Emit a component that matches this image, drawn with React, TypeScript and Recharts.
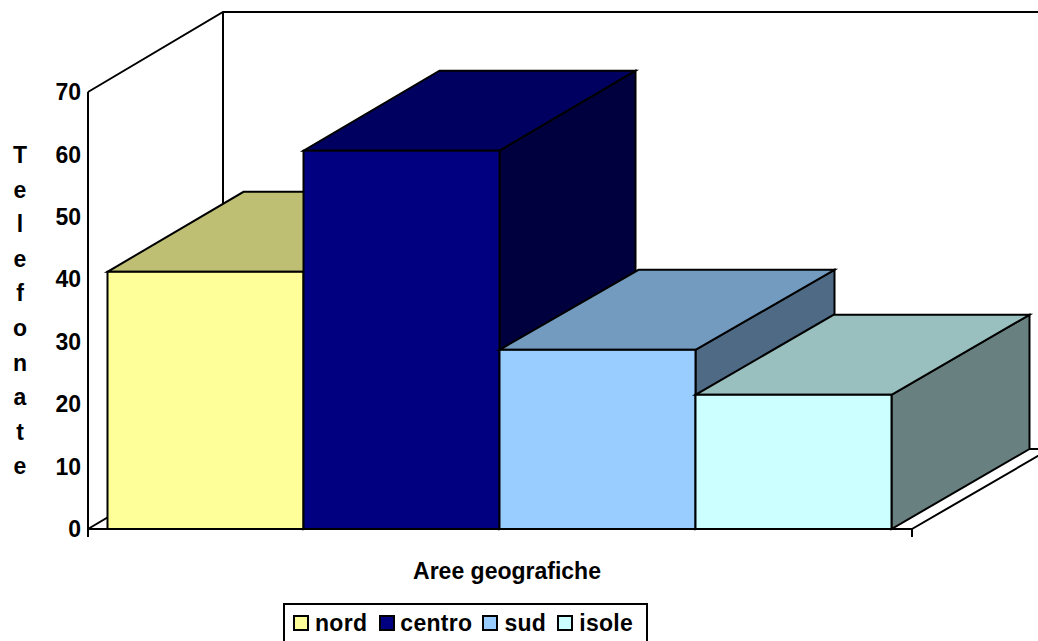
import { BarChart, Bar, XAxis, YAxis, Legend, usePlotArea } from "recharts"

const seriesNames = ["nord", "centro", "sud", "isole"]
const seriesValues = [41.2, 60.6, 28.7, 21.5]
const frontColors = ["#FFFF99", "#000080", "#99CCFF", "#CCFFFF"]
const topColors = ["#BFBF73", "#000060", "#739ABF", "#9ABFBF"]
const sideColors = ["#808050", "#00003F", "#4F6A85", "#688080"]
const yTicks = [0, 10, 20, 30, 40, 50, 60, 70]
const yTitle = "Telefonate"

const data = [Object.fromEntries(seriesNames.map((name, i) => [name, seriesValues[i]]))]

// profondita' della finta prospettiva 3D
const DEPTH_X = 135
const DEPTH_Y = 80
const BAR_DEPTHS = [136, 136, 139, 138]
const FONT = "'Liberation Sans', Arial, sans-serif"

const Box3D = (props: any) => {
  const { x, y, width, height, seriesIndex } = props
  const dx = BAR_DEPTHS[seriesIndex]
  const r = x + width
  const b = y + height
  const top = `${x},${y} ${r},${y} ${r + dx},${y - DEPTH_Y} ${x + dx},${y - DEPTH_Y}`
  const side = `${r},${y} ${r + dx},${y - DEPTH_Y} ${r + dx},${b - DEPTH_Y} ${r},${b}`
  return (
    <g stroke="#000" strokeWidth={2}>
      <polygon points={side} fill={sideColors[seriesIndex]} />
      <polygon points={top} fill={topColors[seriesIndex]} />
      <rect x={x} y={y} width={width} height={height} fill={frontColors[seriesIndex]} />
    </g>
  )
}

// pareti e pavimento dietro le barre
const Walls = () => {
  const plot = usePlotArea()
  if (!plot) return null
  const l = plot.x
  const t = plot.y
  const b = plot.y + plot.height
  const r = plot.x + plot.width
  const floorRight = r + DEPTH_X + 3
  return (
    <g stroke="#000" strokeWidth={2} fill="none">
      <polyline points={`${l},${t} ${l + DEPTH_X},${t - DEPTH_Y} ${floorRight},${t - DEPTH_Y}`} />
      <line x1={l + DEPTH_X} y1={t - DEPTH_Y} x2={l + DEPTH_X} y2={b - DEPTH_Y} />
      <polyline points={`${l},${b} ${l + DEPTH_X},${b - DEPTH_Y} ${floorRight},${b - DEPTH_Y} ${r},${b}`} />
      <line x1={l} y1={b} x2={l} y2={b + 8} />
      <line x1={r} y1={b} x2={r} y2={b + 8} />
    </g>
  )
}

const YTitle = () => (
  <text x={20} y={163} textAnchor="middle" fontFamily={FONT} fontWeight="bold" fontSize={23} fill="#000">
    {yTitle.split("").map((letter, i) => (
      <tspan key={i} x={20} dy={i === 0 ? 0 : 34.6}>
        {letter}
      </tspan>
    ))}
  </text>
)

const legendSwatch = { width: 12, height: 12, border: "2px solid #000", display: "inline-block" }
const legendGaps = [12, 10, 11, 0]
const swatchGaps = [6, 5, 6, 6]

const BoxLegend = (props: any) => (
  <div
    style={{
      boxSizing: "border-box",
      width: 365,
      height: 60,
      border: "2px solid #000",
      background: "#fff",
      display: "flex",
      paddingLeft: 8,
      paddingTop: 6,
      fontFamily: FONT,
      fontWeight: "bold",
      fontSize: 23,
      letterSpacing: 0.3,
      lineHeight: "24px",
      color: "#000",
    }}
  >
    {props.payload.map((entry: any, i: number) => (
      <span key={entry.value} style={{ display: "flex", alignItems: "center", height: 24, marginRight: legendGaps[i] }}>
        <span style={{ ...legendSwatch, background: frontColors[i], marginRight: swatchGaps[i] }} />
        {entry.value}
      </span>
    ))}
  </div>
)

export default function App() {
  return (
    <div style={{ position: "absolute", left: 0, top: 0, width: 1038, height: 641, overflow: "hidden", background: "#fff" }}>
      <BarChart
        width={1038}
        height={641}
        data={data}
        margin={{ top: 92, right: 126, bottom: 82, left: 28 }}
        barCategoryGap={19.5}
        barGap={0}
      >
        <Walls />
        <XAxis
          tick={false}
          tickLine={false}
          axisLine={{ stroke: "#000", strokeWidth: 2 }}
          height={30}
          label={{
            value: "Aree geografiche",
            position: "insideBottom",
            dx: 7,
            dy: 25,
            style: { fontFamily: FONT, fontWeight: "bold", fontSize: 23, fill: "#000" },
          }}
        />
        <YAxis
          width={60}
          domain={[0, 70]}
          ticks={yTicks}
          interval={0}
          tickLine={false}
          tickMargin={1}
          axisLine={{ stroke: "#000", strokeWidth: 2 }}
          tick={{ fontFamily: FONT, fontWeight: "bold", fontSize: 23, fill: "#000" }}
        />
        {seriesNames.map((name, i) => (
          <Bar
            key={name}
            dataKey={name}
            name={name}
            fill={frontColors[i]}
            isAnimationActive={false}
            shape={(p: any) => <Box3D {...p} seriesIndex={i} />}
          />
        ))}
        <YTitle />
        <Legend
          layout="horizontal"
          verticalAlign="middle"
          itemSorter={null}
          content={BoxLegend}
          wrapperStyle={{ left: 283, top: 603, width: 365, height: 60 }}
        />
      </BarChart>
    </div>
  )
}
